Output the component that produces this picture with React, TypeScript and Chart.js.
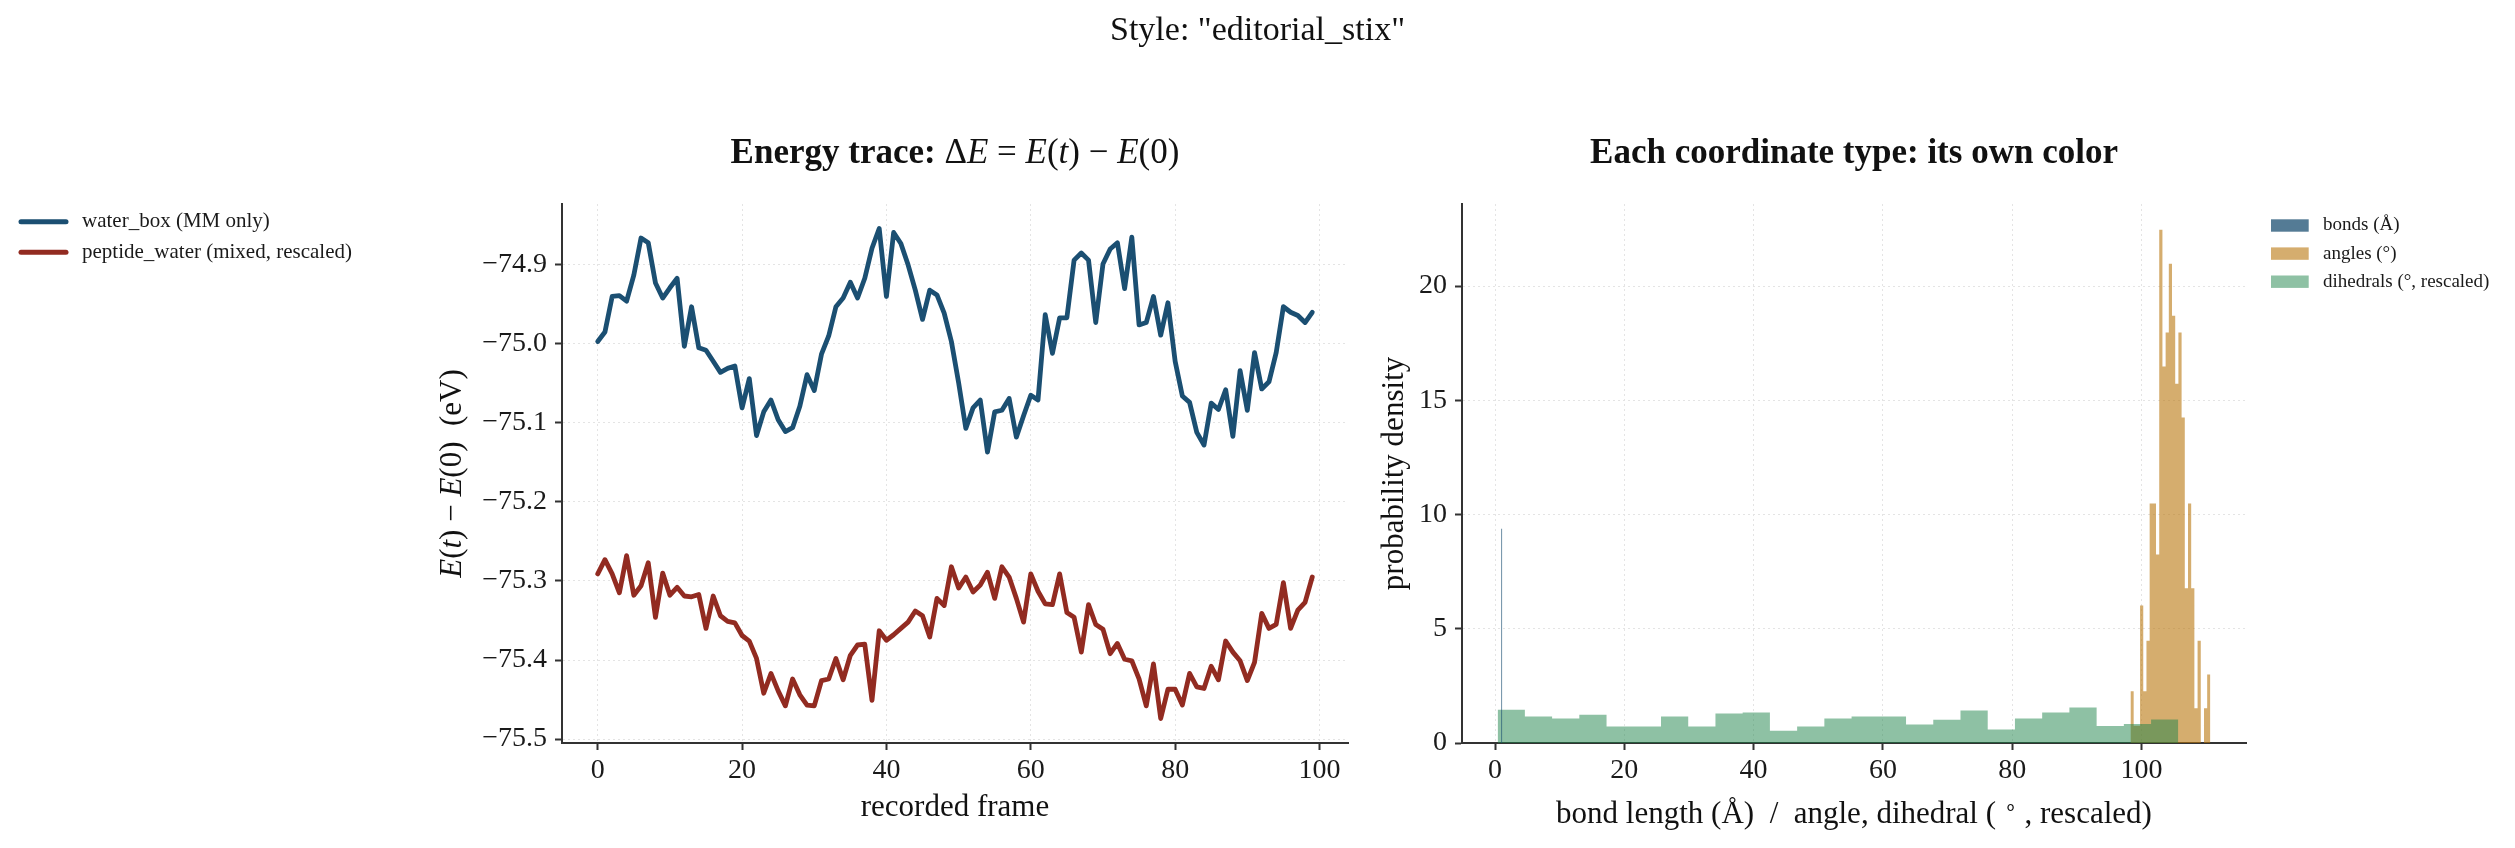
import React, { useEffect, useRef } from "react";
import { Chart, registerables } from "chart.js";

Chart.register(...registerables);

const SERIF = "'Liberation Serif', 'Times New Roman', Times, serif";
const W = 2515;
const H = 848;

// ---- Energy trace (eV per recorded frame) ----
const frames = [...Array(100).keys()];
const waterBox = [
  -74.997, -74.985, -74.94, -74.939, -74.946, -74.913, -74.866, -74.872, -74.923, -74.942,
  -74.929, -74.917, -75.003, -74.953, -75.005, -75.008, -75.022, -75.036, -75.031, -75.028,
  -75.081, -75.044, -75.116, -75.086, -75.071, -75.096, -75.111, -75.106, -75.079, -75.039,
  -75.059, -75.013, -74.99, -74.953, -74.942, -74.922, -74.942, -74.917, -74.879, -74.854,
  -74.94, -74.859, -74.873, -74.9, -74.932, -74.969, -74.932, -74.938, -74.961, -74.997,
  -75.049, -75.107, -75.081, -75.071, -75.137, -75.086, -75.084, -75.069, -75.118, -75.091,
  -75.065, -75.071, -74.963, -75.012, -74.967, -74.967, -74.894, -74.885, -74.894, -74.973,
  -74.899, -74.88, -74.872, -74.93, -74.865, -74.976, -74.973, -74.94, -74.989, -74.948,
  -75.022, -75.066, -75.074, -75.112, -75.128, -75.075, -75.083, -75.058, -75.117, -75.034,
  -75.084, -75.011, -75.057, -75.048, -75.011, -74.953, -74.96, -74.964, -74.973, -74.96,
];
const peptideWater = [
  -75.291, -75.273, -75.291, -75.315, -75.268, -75.318, -75.306, -75.277, -75.346, -75.29,
  -75.318, -75.308, -75.319, -75.32, -75.317, -75.36, -75.319, -75.344, -75.351, -75.353,
  -75.369, -75.376, -75.398, -75.442, -75.417, -75.439, -75.458, -75.424, -75.444, -75.457,
  -75.458, -75.426, -75.424, -75.398, -75.425, -75.394, -75.381, -75.38, -75.451, -75.363,
  -75.375, -75.368, -75.36, -75.352, -75.338, -75.344, -75.371, -75.322, -75.331, -75.282,
  -75.309, -75.295, -75.314, -75.305, -75.289, -75.322, -75.282, -75.295, -75.322, -75.352,
  -75.291, -75.313, -75.329, -75.33, -75.291, -75.34, -75.346, -75.39, -75.33, -75.355,
  -75.361, -75.392, -75.379, -75.399, -75.401, -75.424, -75.458, -75.405, -75.474, -75.437,
  -75.437, -75.457, -75.417, -75.434, -75.436, -75.408, -75.425, -75.376, -75.39, -75.401,
  -75.426, -75.403, -75.341, -75.36, -75.355, -75.302, -75.36, -75.337, -75.327, -75.295,
];
const traceLabels = ["water_box (MM only)", "peptide_water (mixed, rescaled)"];
const traceColors = ["#1b4f72", "#922b21"];
const frameTicks = [0, 20, 40, 60, 80, 100];
const energyTicks = [-74.9, -75.0, -75.1, -75.2, -75.3, -75.4, -75.5];

// ---- Coordinate histograms: bin range and density per bin ----
const bondRange = [0.94, 1.12];
const bondDensity = [9.38];
const angleRange = [98.3, 110.66];
const angleDensity = [
  2.27, 0.75, 0.75, 6.02, 2.27, 4.48, 10.48, 10.48, 8.25, 22.47, 16.48, 17.97, 20.98,
  18.7, 15.73, 17.97, 14.25, 6.77, 10.48, 6.77, 1.52, 4.48, 0, 1.52, 3.0,
];
const dihedralRange = [0.4, 105.7];
const dihedralDensity = [
  1.46, 1.16, 1.07, 1.24, 0.72, 0.72, 1.16, 0.72, 1.29, 1.33, 0.54, 0.72, 1.07,
  1.16, 1.16, 0.81, 1.02, 1.42, 0.59, 1.07, 1.33, 1.55, 0.74, 0.83, 1.03,
];
const histLabels = ["bonds (Å)", "angles (°)", "dihedrals (°, rescaled)"];
const histColors = ["rgba(27,79,114,0.75)", "rgba(185,119,14,0.6)", "rgba(30,132,73,0.5)"];
const coordTicks = [0, 20, 40, 60, 80, 100];
const densityTicks = [0, 5, 10, 15, 20];

// ---- layout (device pixels) ----
const AX_L = { left: 562, right: 1348, top: 204, bottom: 743 };
const AX_R = { left: 1462, right: 2246, top: 204, bottom: 743 };
const Y_W = 120;
const X_H = 60;

type Seg = { t: string; f: string; dy?: number };

function drawRich(
  ctx: CanvasRenderingContext2D,
  segs: Seg[],
  x: number,
  y: number,
  align: "center" | "left",
  rotate = false,
  color = "#111"
) {
  ctx.save();
  ctx.fillStyle = color;
  ctx.textBaseline = "alphabetic";
  ctx.textAlign = "left";
  let total = 0;
  const widths = segs.map((s) => {
    ctx.font = s.f;
    const w = ctx.measureText(s.t).width;
    total += w;
    return w;
  });
  ctx.translate(x, y);
  if (rotate) ctx.rotate(-Math.PI / 2);
  let cx = align === "center" ? -total / 2 : 0;
  segs.forEach((s, i) => {
    ctx.font = s.f;
    ctx.fillText(s.t, cx, s.dy || 0);
    cx += widths[i];
  });
  ctx.restore();
}

function pad(lo: number, hi: number) {
  const m = (hi - lo) * 0.05;
  return [lo - m, hi + m];
}

function stepPoints(range: number[], dens: number[]) {
  const w = (range[1] - range[0]) / dens.length;
  const pts = dens.map((d, i) => ({ x: range[0] + i * w, y: d }));
  pts.push({ x: range[1], y: dens[dens.length - 1] });
  return pts;
}

function axis(
  ticks: number[],
  fmt: (v: number) => string,
  isX: boolean,
  min: number,
  max: number
) {
  return {
    type: "linear" as const,
    min,
    max,
    afterBuildTicks: (s: any) => {
      s.ticks = ticks.map((v) => ({ value: v }));
    },
    afterFit: (s: any) => {
      if (isX) s.height = X_H;
      else s.width = Y_W;
    },
    ticks: {
      autoSkip: false,
      maxRotation: 0,
      minRotation: 0,
      padding: isX ? 4 : 8,
      color: "#1a1a1a",
      font: { family: SERIF, size: 28 },
      callback: (v: any) => fmt(Number(v)),
    },
    grid: {
      color: "#e4e4e4",
      lineWidth: 1,
      drawTicks: true,
      tickLength: 7,
      tickColor: "#333",
      tickWidth: 2,
    },
    border: { display: true, color: "#333", width: 2, dash: [2, 3] },
  };
}

const fmtInt = (v: number) => String(Math.round(v));
const fmtEnergy = (v: number) => v.toFixed(1).replace("-", "\u2212");

export default function App() {
  const leftRef = useRef<HTMLCanvasElement>(null);
  const rightRef = useRef<HTMLCanvasElement>(null);

  useEffect(() => {
    const allE = [...waterBox, ...peptideWater];
    const [eMin, eMax] = pad(Math.min(...allE), Math.max(...allE));
    const [fMin, fMax] = pad(frames[0], frames[frames.length - 1]);

    const leftDecor = {
      id: "leftDecor",
      afterDraw(chart: any) {
        const ctx = chart.ctx as CanvasRenderingContext2D;
        const ca = chart.chartArea;
        const cx = (ca.left + ca.right) / 2;
        const cy = (ca.top + ca.bottom) / 2;
        drawRich(ctx, [{ t: 'Style: "editorial_stix"', f: `34px ${SERIF}` }], W / 2, 40, "center");
        const b = `bold 35px ${SERIF}`;
        const r = `35px ${SERIF}`;
        const it = `italic 35px ${SERIF}`;
        drawRich(
          ctx,
          [
            { t: "Energy trace: ", f: b },
            { t: "Δ", f: r },
            { t: "E", f: it },
            { t: " = ", f: r },
            { t: "E", f: it },
            { t: "(", f: r },
            { t: "t", f: it },
            { t: ") \u2212 ", f: r },
            { t: "E", f: it },
            { t: "(0)", f: r },
          ],
          cx,
          163,
          "center"
        );
        drawRich(ctx, [{ t: "recorded frame", f: `31px ${SERIF}` }], cx, 816, "center");
        const r2 = `31px ${SERIF}`;
        const i2 = `italic 31px ${SERIF}`;
        drawRich(
          ctx,
          [
            { t: "E", f: i2 },
            { t: "(", f: r2 },
            { t: "t", f: i2 },
            { t: ") \u2212 ", f: r2 },
            { t: "E", f: i2 },
            { t: "(0)  (eV)", f: r2 },
          ],
          461,
          cy,
          "center",
          true
        );
        // figure legend
        ctx.save();
        chart.data.datasets.forEach((ds: any, i: number) => {
          const y = 221.7 + i * 30.6;
          ctx.strokeStyle = ds.borderColor;
          ctx.lineWidth = 5;
          ctx.lineCap = "round";
          ctx.beginPath();
          ctx.moveTo(21, y);
          ctx.lineTo(66, y);
          ctx.stroke();
          ctx.fillStyle = "#1a1a1a";
          ctx.font = `21px ${SERIF}`;
          ctx.textBaseline = "middle";
          ctx.textAlign = "left";
          ctx.fillText(ds.label, 82, y);
        });
        ctx.restore();
      },
    };

    const left = new Chart(leftRef.current!, {
      type: "line",
      data: {
        datasets: [waterBox, peptideWater].map((vals, k) => ({
          label: traceLabels[k],
          data: frames.map((f, i) => ({ x: f, y: vals[i] })),
          borderColor: traceColors[k],
          backgroundColor: traceColors[k],
          borderWidth: 4.8,
          borderJoinStyle: "round" as const,
          borderCapStyle: "round" as const,
          pointRadius: 0,
          tension: 0,
          fill: false,
        })),
      },
      options: {
        responsive: false,
        animation: false,
        devicePixelRatio: 1,
        events: [],
        layout: {
          padding: {
            left: AX_L.left - Y_W,
            right: W - AX_L.right,
            top: AX_L.top,
            bottom: H - AX_L.bottom - X_H,
          },
        },
        plugins: { legend: { display: false }, tooltip: { enabled: false }, title: { display: false } },
        scales: {
          x: axis(frameTicks, fmtInt, true, fMin, fMax),
          y: axis(energyTicks, fmtEnergy, false, eMin, eMax),
        },
      },
      plugins: [leftDecor],
    });

    const allX = [bondRange[0], angleRange[0], dihedralRange[0], bondRange[1], angleRange[1], dihedralRange[1]];
    const [cMin, cMax] = pad(Math.min(...allX), Math.max(...allX));
    const dMax = Math.max(...bondDensity, ...angleDensity, ...dihedralDensity) * 1.05;

    const rightDecor = {
      id: "rightDecor",
      afterDraw(chart: any) {
        const ctx = chart.ctx as CanvasRenderingContext2D;
        const ca = chart.chartArea;
        const cx = (ca.left + ca.right) / 2;
        const cy = (ca.top + ca.bottom) / 2;
        drawRich(ctx, [{ t: "Each coordinate type: its own color", f: `bold 35px ${SERIF}` }], cx, 163, "center");
        const r2 = `31px ${SERIF}`;
        drawRich(
          ctx,
          [
            { t: "bond length (Å)  /  angle, dihedral ( ", f: r2 },
            { t: "\u2218", f: `21px ${SERIF}`, dy: -10 },
            { t: " , rescaled)", f: r2 },
          ],
          cx,
          823,
          "center"
        );
        drawRich(ctx, [{ t: "probability density", f: r2 }], 1403, cy, "center", true);
        // legend
        ctx.save();
        chart.data.datasets.forEach((ds: any, i: number) => {
          const y = 225.5 + i * 28.1;
          ctx.fillStyle = ds.backgroundColor;
          ctx.fillRect(2271, y - 6.2, 37.7, 12.4);
          ctx.fillStyle = "#1a1a1a";
          ctx.font = `19px ${SERIF}`;
          ctx.textBaseline = "middle";
          ctx.textAlign = "left";
          ctx.fillText(ds.label, 2323, y);
        });
        ctx.restore();
      },
    };

    const hists = [
      { range: bondRange, dens: bondDensity, order: 0 },
      { range: angleRange, dens: angleDensity, order: 2 },
      { range: dihedralRange, dens: dihedralDensity, order: 1 },
    ];

    const right = new Chart(rightRef.current!, {
      type: "line",
      data: {
        datasets: hists.map((h, k) => ({
          label: histLabels[k],
          data: stepPoints(h.range, h.dens),
          order: h.order,
          stepped: true,
          fill: "origin",
          backgroundColor: histColors[k],
          borderColor: histColors[k],
          borderWidth: 0,
          pointRadius: 0,
        })),
      },
      options: {
        responsive: false,
        animation: false,
        devicePixelRatio: 1,
        events: [],
        layout: {
          padding: {
            left: AX_R.left - Y_W,
            right: W - AX_R.right,
            top: AX_R.top,
            bottom: H - AX_R.bottom - X_H,
          },
        },
        plugins: { legend: { display: false }, tooltip: { enabled: false }, title: { display: false } },
        scales: {
          x: axis(coordTicks, fmtInt, true, cMin, cMax),
          y: axis(densityTicks, fmtInt, false, 0, dMax),
        },
      },
      plugins: [rightDecor],
    });

    return () => {
      left.destroy();
      right.destroy();
    };
  }, []);

  return (
    <div style={{ position: "absolute", left: 0, top: 0, width: W, height: H, background: "#fff" }}>
      <canvas ref={leftRef} width={W} height={H} style={{ position: "absolute", left: 0, top: 0 }} />
      <canvas ref={rightRef} width={W} height={H} style={{ position: "absolute", left: 0, top: 0 }} />
    </div>
  );
}
